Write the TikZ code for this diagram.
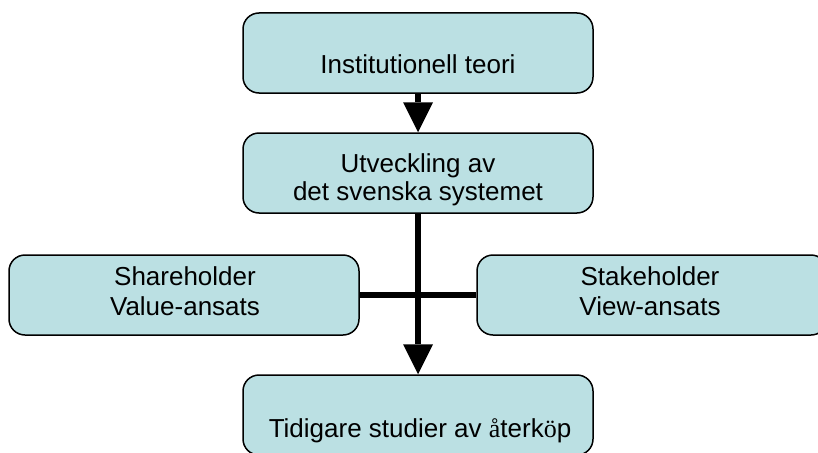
\documentclass[tikz,border=0pt]{standalone}
\usepackage{fontspec}
\setmainfont{Liberation Sans}
\newfontfamily\serifglyph{Liberation Serif}
\usetikzlibrary{arrows.meta}
\definecolor{boxfill}{HTML}{BBE0E3}
\tikzset{
  box/.style={draw=black, line width=1.5pt, fill=boxfill, rounded corners=16pt,
    minimum width=350pt, minimum height=80pt, inner sep=0pt},
  lbl/.style={inner sep=0pt, anchor=base, font=\fontsize{26}{30}\selectfont},
  conn/.style={line width=6pt, -{Triangle[length=30pt,width=30pt,line width=0pt]}},
  bar/.style={line width=6pt}
}
\begin{document}
\begin{tikzpicture}[x=1pt,y=-1pt]
\useasboundingbox (0,0) rectangle (818,452);
\clip (0,0) rectangle (818,452);
% boxes
\node[box] (top) at (418,53) {};
\node[box] (mid) at (418,173) {};
\node[box] (left) at (184,295) {};
\node[box] (right) at (652,295) {};
\node[box] (bot) at (418,415) {};
% connectors
\draw[bar] (left.east) -- (right.west);
\draw[conn] (top.south) -- (mid.north);
\draw[conn] (mid.south) -- (bot.north);
% texts
\node[lbl] (t1) at (418,73) {Institutionell teori};
\node[lbl] (t2a) at (418,172) {Utveckling av};
\node[lbl] (t2b) at (418,200) {det svenska systemet};
\node[lbl] (t3a) at (185,285) {Shareholder};
\node[lbl] (t3b) at (185,315) {Value-ansats};
\node[lbl] (t4a) at (650,285) {Stakeholder};
\node[lbl] (t4b) at (650,315) {View-ansats};
\node[lbl] (t5) at (420,437) {Tidigare studier av {\serifglyph å}terk{\serifglyph ö}p};
\end{tikzpicture}
\end{document}
